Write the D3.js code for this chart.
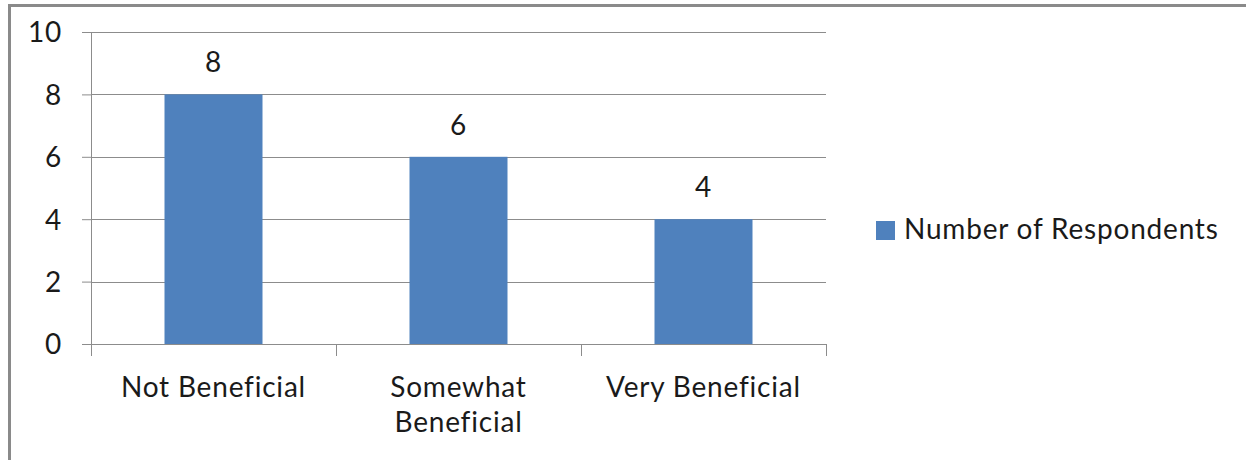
<!DOCTYPE html>
<html>
<head>
<meta charset="utf-8">
<script src="https://cdn.jsdelivr.net/npm/d3@7"></script>
<style>
  body { margin: 0; background: #fff; }
  svg text { font-family: Lato, "Open Sans", sans-serif; fill: #1a1a1a; font-size: 28px; letter-spacing: 0.8px; }
</style>
</head>
<body>
<svg id="chart" width="1246" height="460"></svg>
<script>
// data
const categories = [['Not Beneficial'], ['Somewhat', 'Beneficial'], ['Very Beneficial']];
const values = [8, 6, 4];
const seriesName = 'Number of Respondents';
const yTicks = [0, 2, 4, 6, 8, 10];

const svg = d3.select('#chart');
const margin = { top: 32, left: 91, right: 420, bottom: 116 };
const width = 1246 - margin.left - margin.right;
const height = 460 - margin.top - margin.bottom;
const barColor = '#4f81bd';
const gridColor = '#8c8c8c';

// outer frame
svg.append('rect').attr('x', 9.5).attr('y', 5.5).attr('width', 1250).attr('height', 470)
    .attr('fill', 'none').attr('stroke', '#8a8a8a').attr('stroke-width', 3);

const g = svg.append('g').attr('transform', 'translate(' + margin.left + ',' + margin.top + ')');

const keys = categories.map(c => c.join(' '));
const x = d3.scaleBand().domain(keys).range([0, width]).paddingInner(0.6).paddingOuter(0.3);
const y = d3.scaleLinear().domain([0, 10]).range([height, 0]);

// grid lines
g.append('g').selectAll('line').data(yTicks.filter(d => d > 0)).join('line')
    .attr('x1', 0).attr('x2', width)
    .attr('y1', d => Math.round(y(d)) + 0.5).attr('y2', d => Math.round(y(d)) + 0.5)
    .attr('stroke', gridColor).attr('stroke-width', 1);

// y axis
const yAxis = g.append('g')
    .call(d3.axisLeft(y).tickValues(yTicks).tickSize(9).tickPadding(20).tickFormat(d3.format('d')));
yAxis.select('.domain').attr('stroke', gridColor).attr('d', 'M-9,0.5H0.5V' + height);
yAxis.selectAll('.tick line').attr('stroke', gridColor);
yAxis.selectAll('.tick text').style('font-size', '28px').attr('font-family', null).attr('dy', '0.35em');

// bars
g.selectAll('rect.bar').data(values).join('rect').attr('class', 'bar')
    .attr('x', (d, i) => x(keys[i]))
    .attr('width', x.bandwidth())
    .attr('y', d => y(d))
    .attr('height', d => height - y(d))
    .attr('fill', barColor);

// x axis
const step = width / categories.length;
const xAxis = g.append('g').attr('transform', 'translate(0,' + height + ')');
xAxis.append('path').attr('d', 'M0.5,0.5H' + (width + 0.5)).attr('stroke', gridColor).attr('fill', 'none');
xAxis.selectAll('line').data(d3.range(categories.length + 1)).join('line')
    .attr('x1', i => Math.round(i * step) + 0.5).attr('x2', i => Math.round(i * step) + 0.5)
    .attr('y1', 0).attr('y2', 12).attr('stroke', gridColor);
xAxis.selectAll('text').data(categories).join('text')
    .attr('x', (d, i) => x(keys[i]) + x.bandwidth() / 2)
    .attr('y', 53)
    .attr('text-anchor', 'middle')
    .selectAll('tspan').data(d => d).join('tspan')
    .attr('x', function() { return d3.select(this.parentNode).attr('x'); })
    .attr('dy', (d, i) => i === 0 ? 0 : 35)
    .text(d => d);

// data labels
g.selectAll('text.lbl').data(values).join('text').attr('class', 'lbl')
    .attr('x', (d, i) => x(keys[i]) + x.bandwidth() / 2)
    .attr('y', d => y(d) - 22)
    .attr('text-anchor', 'middle')
    .text(d => d);

// legend
const legend = svg.append('g').attr('transform', 'translate(876,221)');
legend.append('rect').attr('width', 19).attr('height', 19).attr('fill', barColor);
legend.append('text').attr('x', 28).attr('y', 18).text(seriesName);
</script>
</body>
</html>
